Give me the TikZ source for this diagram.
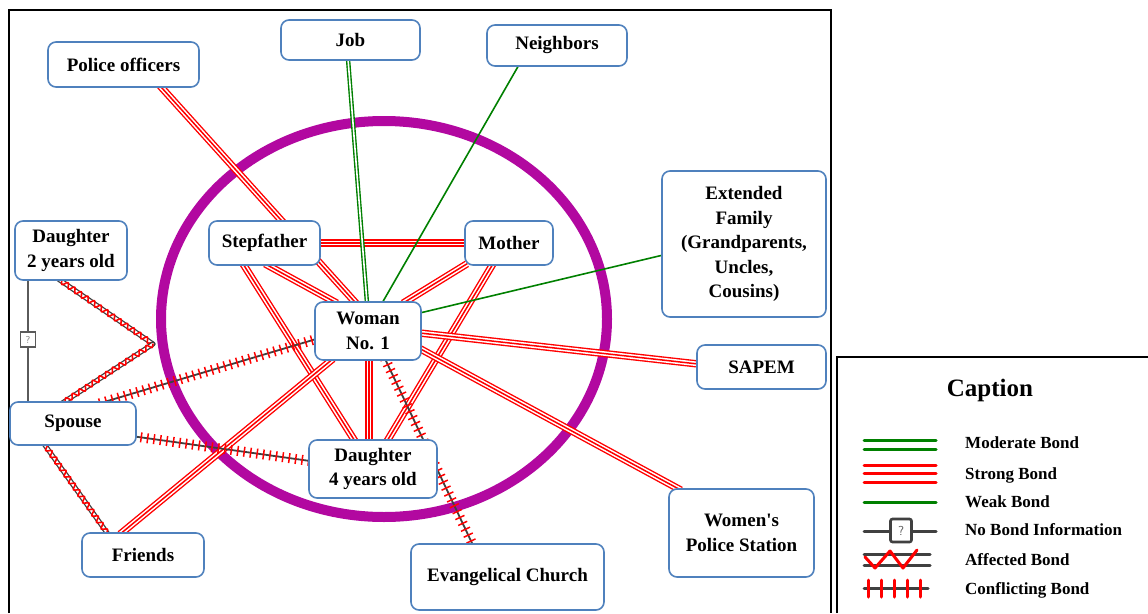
\documentclass[tikz,border=0pt]{standalone}
\usepackage{fontspec}
\setmainfont{Liberation Serif}[Ligatures=TeXOff]
\usetikzlibrary{calc,decorations.markings,decorations.pathmorphing}
\pgfdeclarelayer{ringlayer}
\pgfdeclarelayer{linelayer}
\pgfsetlayers{ringlayer,linelayer,main}
\definecolor{nodeblue}{RGB}{79,129,189}
\definecolor{bondred}{RGB}{255,0,0}
\definecolor{bondgreen}{RGB}{0,128,0}
\definecolor{ringmag}{RGB}{178,8,160}
\definecolor{bondgray}{RGB}{64,64,64}
\definecolor{qgray}{RGB}{90,90,90}
\begin{document}
\begin{tikzpicture}[x=1pt,y=-1pt,
  nbox/.style={draw=nodeblue, line width=1.6pt, rounded corners=8pt, fill=white, align=center,
    font=\fontsize{19}{24.5}\selectfont\bfseries, inner sep=2pt},
  strong/.style={draw=bondred, line width=7.4pt, postaction={draw=white, line width=4.6pt},
    postaction={draw=bondred, line width=1.5pt}},
  moderate/.style={draw=bondgreen, line width=4.4pt, postaction={draw=white, line width=1.6pt}},
  weak/.style={draw=bondgreen, line width=1.6pt},
  conflict/.style={draw=bondgray, line width=1.8pt, postaction={decorate, decoration={markings,
    mark=between positions 0 and 1 step 6.5pt with {\draw[bondred, line width=1.5pt] (0pt,-5pt) -- (0pt,5pt);}}}},
  affected/.style={draw=bondgray, line width=5pt, line join=round, postaction={draw=white, line width=2.4pt},
    postaction={decorate, draw=bondred, line width=1.6pt, decoration={snake, amplitude=2.6pt, segment length=8pt}}},
  noinfo/.style={draw=qgray, line width=1.8pt},
  legtext/.style={anchor=west, font=\fontsize{17}{20}\selectfont\bfseries, inner sep=0pt},
  legline/.style={line width=3pt, line cap=round},
]
\useasboundingbox (0,0) rectangle (1148,613);
\begin{pgfonlayer}{ringlayer}
  \fill[white] (0,0) rectangle (1148,613);
\end{pgfonlayer}
% frames
\draw[black, line width=1.3pt] (9,613) -- (9,10) -- (831,10) -- (831,613);
\draw[black, line width=1.2pt] (837,613) -- (837,357) -- (1148,357);

% nodes
\node[nbox, minimum width=151pt, minimum height=45pt] (police) at (123.5,64.5) {Police officers};
\node[nbox, minimum width=139pt, minimum height=40pt] (job) at (350.5,40) {Job};
\node[nbox, minimum width=140pt, minimum height=41pt] (neigh) at (557,45.5) {Neighbors};
\node[nbox, minimum width=164pt, minimum height=146pt] (ext) at (744,244) {Extended\\Family\\(Grandparents,\\Uncles,\\Cousins)};
\node[nbox, minimum width=129pt, minimum height=44pt] (sapem) at (761.5,367) {SAPEM};
\node[nbox, minimum width=145pt, minimum height=88pt] (wps) at (741.5,533) {Women's\\Police Station};
\node[nbox, minimum width=193pt, minimum height=66pt] (church) at (507.5,577) {Evangelical Church};
\node[nbox, minimum width=122pt, minimum height=44pt] (friends) at (143,555) {Friends};
\node[nbox, minimum width=126pt, minimum height=43pt] (spouse) at (73,423.5) {Spouse};
\node[nbox, minimum width=112pt, minimum height=59pt] (d2) at (71,250.5) {Daughter\\2 years old};
\node[nbox, minimum width=111pt, minimum height=44pt] (step) at (264.5,243) {Stepfather};
\node[nbox, minimum width=88pt, minimum height=44pt] (mother) at (509,243) {Mother};
\node[nbox, minimum width=106pt, minimum height=58pt] (woman) at (368,331) {Woman\\No. 1};
\node[nbox, minimum width=128pt, minimum height=58pt] (d4) at (373,469) {Daughter\\4 years old};
\node[draw=qgray, line width=1.6pt, fill=white, minimum width=15pt, minimum height=15pt, inner sep=0pt,
  font=\sffamily\fontsize{10}{10}\selectfont, text=qgray!80] (q1) at (28,339.5) {?};
\coordinate (bendpt) at (153,344);

\begin{pgfonlayer}{ringlayer}
  \draw[ringmag, line width=10pt] (384,319) ellipse [x radius=223, y radius=198];
\end{pgfonlayer}

\begin{pgfonlayer}{linelayer}
  % strong bonds
  \draw[strong] ($(police.south)+(36.5,-2)$) -- ($(woman.north)+(-12,2)$);
  \draw[strong] ($(step.south)+(0.5,-2)$) -- ($(woman.north)+(-31,2)$);
  \draw[strong] ($(step.south)+(-21.5,-2)$) -- ($(d4.north)+(-18,2)$);
  \draw[strong] ($(step.east)+(-2,0)$) -- ($(mother.west)+(2,0)$);
  \draw[strong] ($(mother.south)+(-42,-2)$) -- ($(woman.north)+(35,2)$);
  \draw[strong] ($(mother.south)+(-16,-2)$) -- ($(d4.north)+(14,2)$);
  \draw[strong] ($(woman.south)+(1,-2)$) -- ($(d4.north)+(-4,2)$);
  \draw[strong] ($(woman.east)+(-2,2)$) -- ($(sapem.west)+(2,-3)$);
  \draw[strong] ($(woman.east)+(-3,17)$) -- ($(wps.north)+(-60.5,2)$);
  \draw[strong] ($(friends.north)+(-23,2)$) -- ($(woman.south)+(-35,-2)$);
  % green bonds
  \draw[moderate] ($(job.south)+(-2.5,-2)$) -- ($(woman.north)+(-1,2)$);
  \draw[weak] ($(neigh.south)+(-38,-2)$) -- ($(woman.north)+(14,2)$);
  \draw[weak] ($(ext.west)+(2,11)$) -- ($(woman.east)+(-2,-18)$);
  % conflicting bonds
  \draw[conflict] ($(spouse.north)+(27,2)$) -- ($(woman.west)+(2,8)$);
  \draw[conflict] ($(spouse.east)+(-2,13)$) -- ($(d4.west)+(2,-8)$);
  \draw[conflict] ($(woman.south)+(17,-2)$) -- ($(church.north)+(-34.5,2)$);
  % affected bonds
  \draw[affected, line cap=round] ($(d2.south)+(-13,-2)$) -- (bendpt);
  \draw[affected, line cap=round] (bendpt) -- ($(spouse.north)+(-11,2)$);
  \draw[affected] ($(spouse.south)+(-29,-2)$) -- ($(friends.north)+(-35,2)$);
  % no bond information
  \draw[noinfo] ($(d2.south)+(-43,-2)$) -- (q1.north);
  \draw[noinfo] (q1.south) -- ($(spouse.north)+(-45,2)$);
\end{pgfonlayer}

% legend
\node[font=\fontsize{25}{30}\selectfont\bfseries] (captitle) at (990,390) {Caption};
\draw[legline, bondgreen] (864,440) -- (936,440);
\draw[legline, bondgreen] (864,449) -- (936,449);
\draw[legline, bondred] (864,465) -- (936,465);
\draw[legline, bondred] (864,473.5) -- (936,473.5);
\draw[legline, bondred] (864,482) -- (936,482);
\draw[legline, bondgreen] (864,502) -- (936,502);
\draw[legline, bondgray] (864,531) -- (936,531);
\node[draw=bondgray, line width=2.6pt, rounded corners=2pt, fill=white, minimum width=21pt, minimum height=23pt,
  inner sep=0pt, font=\sffamily\fontsize{13}{13}\selectfont, text=qgray] (legq) at (901,530.5) {?};
\draw[legline, bondgray] (864,554) -- (930,554);
\draw[legline, bondgray] (864,565) -- (930,565);
\draw[legline, bondred, line join=round] (865,557) -- (875,568) -- (890,551) -- (903,568) -- (917,550);
\draw[legline, bondgray] (864,588) -- (928,588);
\foreach \tx in {868,881,894,907,920}
  \draw[legline, bondred] (\tx,580) -- (\tx,597);
\node[legtext] (l1) at (965,443) {Moderate Bond};
\node[legtext] (l2) at (965,475) {Strong Bond};
\node[legtext] (l3) at (965,502) {Weak Bond};
\node[legtext] (l4) at (965,530) {No Bond Information};
\node[legtext] (l5) at (965,560) {Affected Bond};
\node[legtext] (l6) at (965,590) {Conflicting Bond};
\end{tikzpicture}
\end{document}
